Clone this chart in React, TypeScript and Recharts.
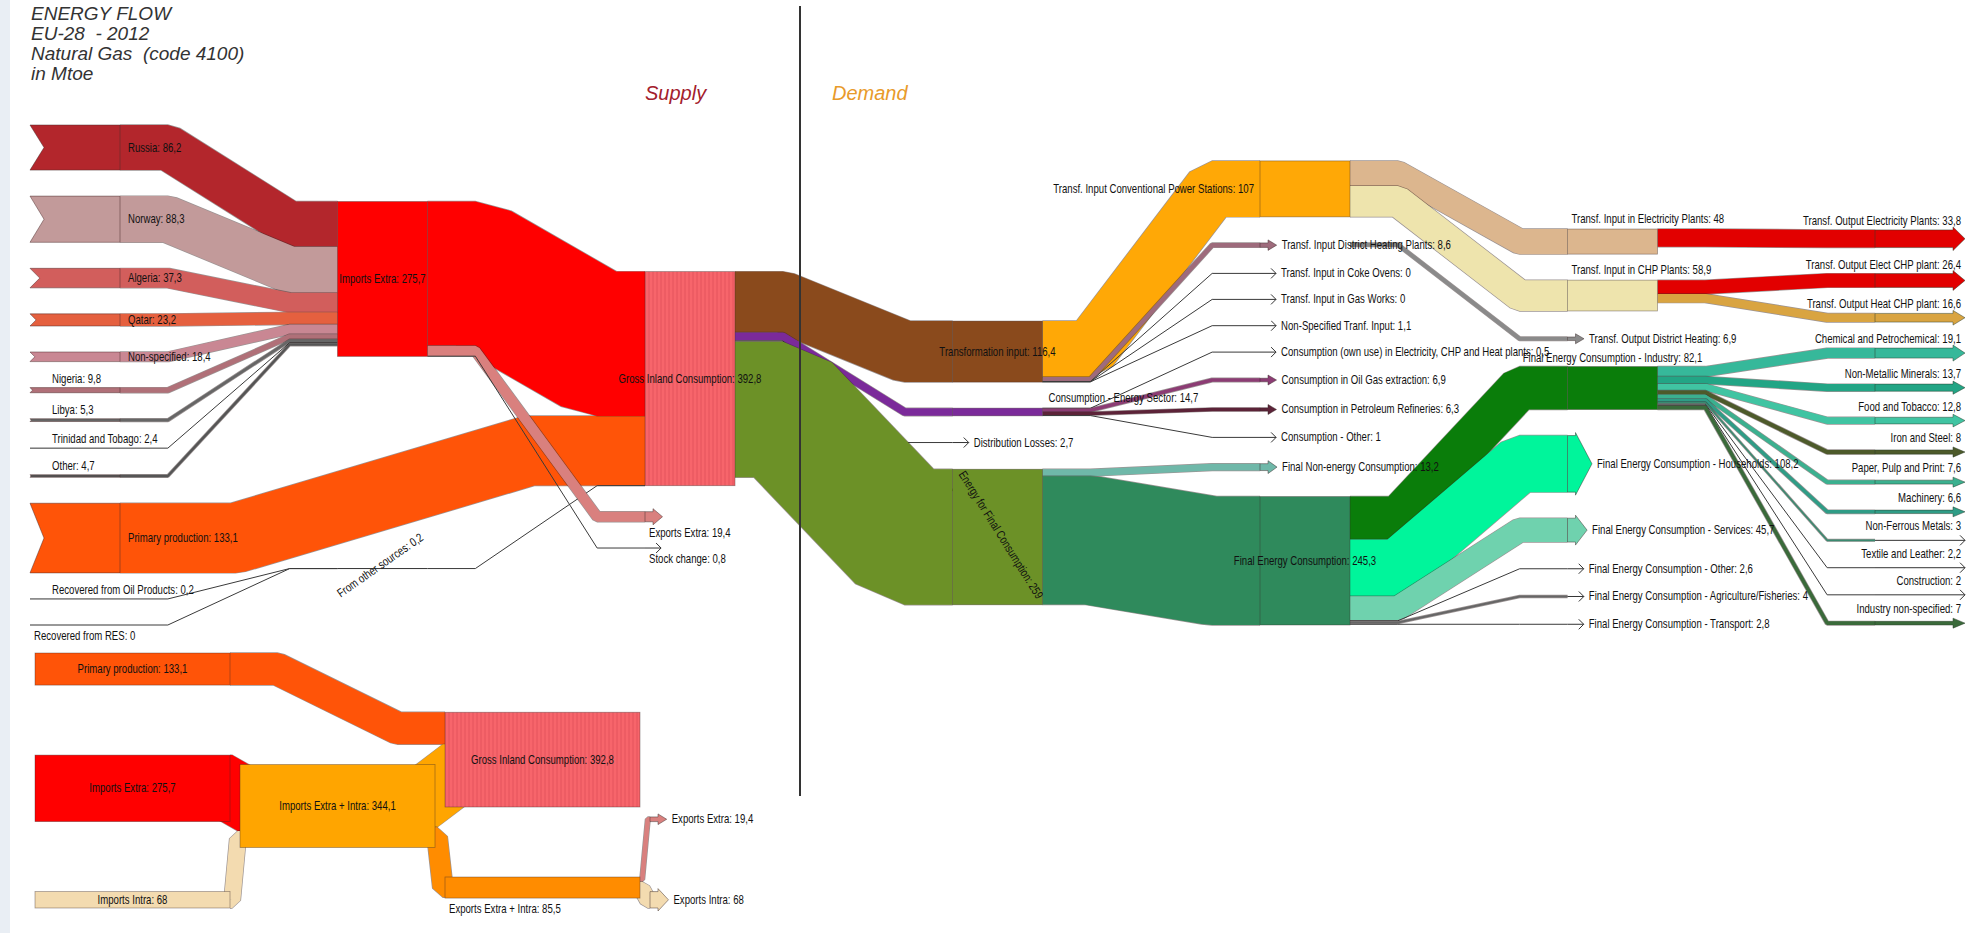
import React from 'react';
import { Sankey } from 'recharts';

const FONT = "'Liberation Sans', Arial, sans-serif";

// ---- supply side ----
const countries = ['Russia', 'Norway', 'Algeria', 'Qatar', 'Non-specified', 'Nigeria', 'Libya', 'Trinidad and Tobago', 'Other'];
const countryImports = [86.2, 88.3, 37.3, 23.2, 18.4, 9.8, 5.3, 2.4, 4.7];
const recovered = ['Recovered from Oil Products', 'Recovered from RES'];
const recoveredValues = [0.2, 0];
const supplyItems = ['Imports Extra', 'Primary production', 'From other sources', 'Gross Inland Consumption', 'Exports Extra', 'Stock change'];
const supplyValues = [275.7, 133.1, 0.2, 392.8, 19.4, 0.8];

// ---- demand side ----
const gicUses = ['Transformation input', 'Consumption - Energy Sector', 'Distribution Losses', 'Energy for Final Consumption'];
const gicUseValues = [116.4, 14.7, 2.7, 259];
const transfInputs = ['Transf. Input Conventional Power Stations', 'Transf. Input District Heating Plants', 'Transf. Input in Coke Ovens', 'Transf. Input in Gas Works', 'Non-Specified Tranf. Input'];
const transfInputValues = [107, 8.6, 0, 0, 1.1];
const powerPlants = ['Transf. Input in Electricity Plants', 'Transf. Input in CHP Plants'];
const powerPlantValues = [48, 58.9];
const outputNames = ['Transf. Output Electricity Plants', 'Transf. Output Elect CHP plant', 'Transf. Output Heat CHP plant', 'Transf. Output District Heating'];
const outputValues = [33.8, 26.4, 16.6, 6.9];
const outputFrom = ['Transf. Input in Electricity Plants', 'Transf. Input in CHP Plants', 'Transf. Input in CHP Plants', 'Transf. Input District Heating Plants'];
const energySector = ['Consumption (own use) in Electricity, CHP and Heat plants', 'Consumption in Oil Gas extraction', 'Consumption in Petroleum Refineries', 'Consumption - Other'];
const energySectorValues = [0.5, 6.9, 6.3, 1];
const finalUses = ['Final Non-energy Consumption', 'Final Energy Consumption'];
const finalUseValues = [13.2, 245.3];
const fecSectors = ['Final Energy Consumption - Industry', 'Final Energy Consumption - Households', 'Final Energy Consumption - Services', 'Final Energy Consumption - Other', 'Final Energy Consumption - Agriculture/Fisheries', 'Final Energy Consumption - Transport'];
const fecValues = [82.1, 108.2, 45.7, 2.6, 4, 2.8];
const industryBranches = ['Chemical and Petrochemical', 'Non-Metallic Minerals', 'Food and Tobacco', 'Iron and Steel', 'Paper, Pulp and Print', 'Machinery', 'Non-Ferrous Metals', 'Textile and Leather', 'Construction', 'Industry non-specified'];
const industryValues = [19.1, 13.7, 12.8, 8, 7.6, 6.6, 3, 2.2, 2, 7];

// ---- small extra/intra trade inset ----
const loopNodes = ['Primary production', 'Imports Extra', 'Imports Intra', 'Imports Extra + Intra', 'Gross Inland Consumption', 'Exports Extra + Intra', 'Exports Extra', 'Exports Intra'];
const loopValues = [133.1, 275.7, 68, 344.1, 392.8, 85.5, 19.4, 68];
const loopFrom = ['Imports Extra', 'Imports Intra', 'Primary production', 'Imports Extra + Intra', 'Imports Extra + Intra', 'Exports Extra + Intra', 'Exports Extra + Intra'];
const loopTo = ['Imports Extra + Intra', 'Imports Extra + Intra', 'Gross Inland Consumption', 'Gross Inland Consumption', 'Exports Extra + Intra', 'Exports Extra', 'Exports Intra'];
const loopFlows = [275.7, 68, 133.1, 259.7, 84.4, 19.4, 68];

const COLORS: Record<string, string> = {
  Russia: '#b3262c', Norway: '#c29a9a', Algeria: '#d25e5c', Qatar: '#e5603f', 'Non-specified': '#c98793',
  Nigeria: '#b07078', Libya: '#666', 'Trinidad and Tobago': '#555', Other: '#555',
  'Primary production': '#ff5408', 'Imports Extra': '#ff0000', 'Gross Inland Consumption': '#f7656b',
  'Exports Extra': '#d9807e', 'Stock change': '#777', 'From other sources': '#777',
  'Transformation input': '#8a4a1c', 'Consumption - Energy Sector': '#7b2a9a', 'Distribution Losses': '#5a3a46',
  'Energy for Final Consumption': '#6c9127',
  'Transf. Input Conventional Power Stations': '#ffa806', 'Transf. Input District Heating Plants': '#9e6b7c',
  'Transf. Input in Electricity Plants': '#dcb68e', 'Transf. Input in CHP Plants': '#eee4ad',
  'Transf. Output Electricity Plants': '#e20000', 'Transf. Output Elect CHP plant': '#e20000',
  'Transf. Output Heat CHP plant': '#d9a441', 'Transf. Output District Heating': '#8a8a8a',
  'Consumption in Oil Gas extraction': '#8c3c74', 'Consumption in Petroleum Refineries': '#5c2338',
  'Final Non-energy Consumption': '#6fb8a9', 'Final Energy Consumption': '#2f8a5c',
  'Final Energy Consumption - Industry': '#0a7d0a', 'Final Energy Consumption - Households': '#00f59b',
  'Final Energy Consumption - Services': '#6fd2ae',
  'Chemical and Petrochemical': '#36b89a', 'Non-Metallic Minerals': '#22a585', 'Food and Tobacco': '#40c4a2',
  'Iron and Steel': '#4d5a2a', 'Paper, Pulp and Print': '#3bb08f', Machinery: '#2f9c86', 'Non-Ferrous Metals': '#3a8a70',
  'Textile and Leather': '#333', Construction: '#7a8a50', 'Industry non-specified': '#3a6a3a',
  'Imports Intra': '#f3dbb0', 'Imports Extra + Intra': '#ffa500', 'Exports Extra + Intra': '#ff8c00', 'Exports Intra': '#f3dbb0',
};

const fmt = (v: number) => String(v).replace('.', ',');

type Triple = [string, string, number];

function buildGraph(order: string[], shown: Map<string, number>, flows: Triple[]) {
  const nodes = order.map((name) => ({ name, shown: shown.get(name) }));
  const links = flows.map(([s, t, value]) => ({ source: order.indexOf(s), target: order.indexOf(t), value }));
  return { nodes, links };
}

const sv = (n: string) => supplyValues[supplyItems.indexOf(n)];

const mainShown = new Map<string, number>();
[[countries, countryImports], [recovered, recoveredValues], [supplyItems, supplyValues], [gicUses, gicUseValues],
 [transfInputs, transfInputValues], [powerPlants, powerPlantValues], [outputNames, outputValues], [energySector, energySectorValues],
 [finalUses, finalUseValues], [fecSectors, fecValues], [industryBranches, industryValues]].forEach(([ns, vs]) =>
  (ns as string[]).forEach((n, i) => mainShown.set(n, (vs as number[])[i])));

const mainOrder = [
  ...countries, 'Primary production', ...recovered,
  'Imports Extra', 'From other sources',
  'Gross Inland Consumption', 'Exports Extra', 'Stock change',
  ...gicUses,
  ...transfInputs, ...energySector, ...finalUses,
  ...powerPlants, 'Transf. Output District Heating', ...fecSectors,
  'Transf. Output Electricity Plants', 'Transf. Output Elect CHP plant', 'Transf. Output Heat CHP plant', ...industryBranches,
];

const mainFlows: Triple[] = [
  ...countries.map((c, i) => [c, 'Imports Extra', countryImports[i]] as Triple),
  ['Primary production', 'Gross Inland Consumption', sv('Primary production')],
  ...recovered.map((r, i) => [r, 'From other sources', recoveredValues[i]] as Triple),
  ['From other sources', 'Gross Inland Consumption', sv('From other sources')],
  ['Imports Extra', 'Gross Inland Consumption', sv('Imports Extra')],
  ['Imports Extra', 'Exports Extra', sv('Exports Extra')],
  ['Imports Extra', 'Stock change', sv('Stock change')],
  ...gicUses.map((g, i) => ['Gross Inland Consumption', g, gicUseValues[i]] as Triple),
  ...transfInputs.map((t, i) => ['Transformation input', t, transfInputValues[i]] as Triple),
  ...powerPlants.map((p, i) => ['Transf. Input Conventional Power Stations', p, powerPlantValues[i]] as Triple),
  ...outputNames.map((o, i) => [outputFrom[i], o, outputValues[i]] as Triple),
  ...energySector.map((e, i) => ['Consumption - Energy Sector', e, energySectorValues[i]] as Triple),
  ...finalUses.map((f, i) => ['Energy for Final Consumption', f, finalUseValues[i]] as Triple),
  ...fecSectors.map((f, i) => ['Final Energy Consumption', f, fecValues[i]] as Triple),
  ...industryBranches.map((b, i) => ['Final Energy Consumption - Industry', b, industryValues[i]] as Triple),
];

const mainData = buildGraph(mainOrder, mainShown, mainFlows);

const loopShown = new Map<string, number>(loopNodes.map((n, i) => [n, loopValues[i]]));
const loopData = buildGraph(loopNodes, loopShown, loopFrom.map((f, i) => [f, loopTo[i], loopFlows[i]] as Triple));

type Kind = 'source' | 'hub' | 'sink' | 'end';
type Place = 'inside' | 'right' | 'left' | 'above' | 'aboveStart' | 'aboveRight' | 'below' | 'up' | 'down' | 'none';

const endOutputs = ['Transf. Output Electricity Plants', 'Transf. Output Elect CHP plant', 'Transf. Output Heat CHP plant'];

function mainLook(name: string): [Kind, Place] {
  if (['Russia', 'Norway', 'Algeria', 'Qatar', 'Non-specified', 'Primary production'].includes(name)) return ['source', 'right'];
  if (['Nigeria', 'Libya', 'Trinidad and Tobago', 'Other', 'Recovered from Oil Products'].includes(name)) return ['source', 'above'];
  if (name === 'Recovered from RES') return ['source', 'below'];
  if (name === 'From other sources') return ['hub', 'up'];
  if (['Imports Extra', 'Gross Inland Consumption', 'Final Energy Consumption', 'Transformation input'].includes(name)) return ['hub', 'inside'];
  if (name === 'Energy for Final Consumption') return ['hub', 'down'];
  if (name === 'Consumption - Energy Sector') return ['hub', 'aboveRight'];
  if (name === 'Final Energy Consumption - Industry') return ['hub', 'above'];
  if (name === 'Transf. Input Conventional Power Stations') return ['hub', 'left'];
  if (powerPlants.includes(name)) return ['hub', 'aboveStart'];
  if (endOutputs.includes(name) || industryBranches.includes(name)) return ['end', 'left'];
  if (name === 'Exports Extra' || name === 'Stock change') return ['sink', 'below'];
  return ['sink', 'right'];
}

function loopLook(name: string): [Kind, Place] {
  if (name === 'Exports Extra' || name === 'Exports Intra') return ['sink', 'right'];
  if (name === 'Exports Extra + Intra') return ['hub', 'below'];
  return ['hub', 'inside'];
}

// narrow text, close to the condensed face of the original
function T({ x, y, anchor = 'start', rot = 0, fill = '#111', children }: any) {
  const tf = `translate(${x},${y})${rot ? ` rotate(${rot})` : ''} scale(0.8,1)`;
  return (
    <text transform={tf} textAnchor={anchor} fontFamily={FONT} fontSize={12} fill={fill}>
      {children}
    </text>
  );
}

function makeNode(look: (n: string) => [Kind, Place], pid: string) {
  return (p: any) => {
    const { x, y, width: w, height: h, payload } = p;
    const name: string = payload.name;
    const [kind, place] = look(name);
    const col = COLORS[name] ?? '#666';
    const cy = y + h / 2;
    const thin = h < 2.2;
    const text = payload.shown !== undefined ? `${name}: ${fmt(payload.shown)}` : name;
    const striped = name === 'Gross Inland Consumption';
    let shape: React.ReactNode = null;
    let tipX = x + w;
    if (kind === 'source') {
      const notch = Math.min(h / 2, 14);
      shape = thin
        ? <line x1={x} y1={cy} x2={x + w} y2={cy} stroke="#333" strokeWidth={1} />
        : <polygon points={`${x},${y} ${x + w},${y} ${x + w},${y + h} ${x},${y + h} ${x + notch},${cy}`} fill={col} stroke="#4a2a2a" strokeOpacity={0.6} strokeWidth={0.8} />;
    } else if (kind === 'hub') {
      shape = thin ? (
        <line x1={x} y1={cy} x2={x + w} y2={cy} stroke="#333" strokeWidth={1} />
      ) : (
        <g>
          {striped && (
            <defs>
              <pattern id={pid} width={4} height={4} patternUnits="userSpaceOnUse">
                <rect width={4} height={4} fill={col} />
                <line x1={1} y1={0} x2={1} y2={4} stroke="#e04e58" strokeWidth={0.8} />
              </pattern>
            </defs>
          )}
          <rect x={x} y={y} width={w} height={h} fill={striped ? `url(#${pid})` : col} stroke="#3a2a2a" strokeOpacity={0.45} strokeWidth={0.8} />
        </g>
      );
    } else if (kind === 'sink') {
      const head = Math.min(8 + h * 0.15, 20);
      const body = 8;
      const hh = Math.max(h / 2 + 3, 5);
      tipX = x + body + head;
      shape = thin ? (
        <g stroke="#333" strokeWidth={1} fill="none">
          <line x1={x} y1={cy} x2={tipX} y2={cy} />
          <polyline points={`${tipX - 5},${cy - 5} ${tipX},${cy} ${tipX - 5},${cy + 5}`} />
        </g>
      ) : (
        <polygon points={`${x},${y} ${x + body},${y} ${x + body},${cy - hh} ${tipX},${cy} ${x + body},${cy + hh} ${x + body},${y + h} ${x},${y + h}`}
          fill={col} stroke="#3a2a2a" strokeOpacity={0.6} strokeWidth={0.8} />
      );
    } else {
      const head = 12;
      const hh = Math.max(h / 2 + 3, 5);
      shape = thin ? (
        <g stroke="#333" strokeWidth={1} fill="none">
          <line x1={x} y1={cy} x2={x + w} y2={cy} />
          <polyline points={`${x + w - 5},${cy - 5} ${x + w},${cy} ${x + w - 5},${cy + 5}`} />
        </g>
      ) : (
        <polygon points={`${x},${y} ${x + w - head},${y} ${x + w - head},${cy - hh} ${x + w},${cy} ${x + w - head},${cy + hh} ${x + w - head},${y + h} ${x},${y + h}`}
          fill={col} stroke="#2a3a2a" strokeOpacity={0.6} strokeWidth={0.8} />
      );
    }
    let label: React.ReactNode = null;
    if (place === 'inside') {
      label = <T x={x + w / 2} y={cy + 4} anchor="middle">{text}</T>;
    } else if (place === 'right') {
      label = <T x={kind === 'sink' ? tipX + 5 : x + w + 8} y={cy + 4}>{text}</T>;
    } else if (place === 'left') {
      label = kind === 'end'
        ? <T x={x + w - 4} y={Math.min(y, cy - 5) - 5} anchor="end">{text}</T>
        : <T x={x - 6} y={cy + 4} anchor="end">{text}</T>;
    } else if (place === 'above') {
      label = <T x={x + (kind === 'source' ? 22 : w / 2)} y={y - 5} anchor={kind === 'source' ? 'start' : 'middle'}>{text}</T>;
    } else if (place === 'aboveStart') {
      label = <T x={x + 4} y={y - 6}>{text}</T>;
    } else if (place === 'aboveRight') {
      label = <T x={x + w + 6} y={y - 6}>{text}</T>;
    } else if (place === 'below') {
      label = <T x={x + 4} y={y + h + 15}>{text}</T>;
    } else if (place === 'up' || place === 'down') {
      const ang = place === 'up' ? -35 : 58;
      label = <T x={x + w / 2} y={cy} rot={ang} anchor="middle">{text}</T>;
    }
    return <g>{shape}{label}</g>;
  };
}

function makeLink(merges: Set<string>) {
  return (p: any) => {
    const { sourceX, targetX, sourceY, targetY, linkWidth, payload } = p;
    const dx = targetX - sourceX;
    const lead = dx * 0.22;
    const d = `M${sourceX},${sourceY} H${sourceX + lead} L${targetX - lead},${targetY} H${targetX}`;
    const s = payload.source.name;
    const t = payload.target.name;
    const col = (merges.has(t) ? COLORS[s] : COLORS[t]) ?? '#666';
    return (
      <g>
        {linkWidth >= 1.5 ? (
          <>
            <path d={d} fill="none" stroke="#3a2a2a" strokeOpacity={0.5} strokeWidth={linkWidth + 1.4} strokeLinejoin="bevel" />
            <path d={d} fill="none" stroke={col} strokeWidth={linkWidth} strokeLinejoin="bevel" />
          </>
        ) : (
          <path d={d} fill="none" stroke="#3a3a3a" strokeWidth={1} />
        )}
      </g>
    );
  };
}

const mainMerges = new Set(['Imports Extra', 'From other sources', 'Gross Inland Consumption']);
const loopMerges = new Set(['Imports Extra + Intra', 'Gross Inland Consumption']);

export default function App() {
  const anyProps: any = { align: 'left', verticalAlign: 'justify', sort: false };
  return (
    <div style={{ position: 'absolute', left: 0, top: 0, width: 1973, height: 933, background: '#fff', overflow: 'hidden', fontFamily: FONT }}>
      <div style={{ position: 'absolute', left: 0, top: 0, width: 10, height: 933, background: '#e9eef4' }} />
      <div style={{ position: 'absolute', left: 31, top: 4, fontStyle: 'italic', fontSize: 19, lineHeight: '20px', color: '#333' }}>
        <div>ENERGY FLOW</div>
        <div>EU-28&nbsp; - 2012</div>
        <div>Natural Gas&nbsp; (code 4100)</div>
        <div>in Mtoe</div>
      </div>
      <div style={{ position: 'absolute', left: 645, top: 82, fontStyle: 'italic', fontSize: 20, color: '#a3202c' }}>Supply</div>
      <div style={{ position: 'absolute', left: 832, top: 82, fontStyle: 'italic', fontSize: 20, color: '#e89a2a' }}>Demand</div>
      <div style={{ position: 'absolute', left: 0, top: 0 }}>
        <Sankey
          width={1973}
          height={650}
          data={mainData}
          nodeWidth={90}
          nodePadding={26}
          iterations={32}
          margin={{ top: 125, right: 8, bottom: 25, left: 30 }}
          node={makeNode(mainLook, 'gicMain')}
          link={makeLink(mainMerges)}
          {...anyProps}
        />
      </div>
      <div style={{ position: 'absolute', left: 0, top: 645 }}>
        <Sankey
          width={850}
          height={285}
          data={loopData}
          nodeWidth={195}
          nodePadding={70}
          iterations={32}
          margin={{ top: 8, right: 5, bottom: 22, left: 35 }}
          node={makeNode(loopLook, 'gicLoop')}
          link={makeLink(loopMerges)}
          {...anyProps}
        />
      </div>
      <div style={{ position: 'absolute', left: 799, top: 6, width: 1.5, height: 790, background: '#333' }} />
    </div>
  );
}
